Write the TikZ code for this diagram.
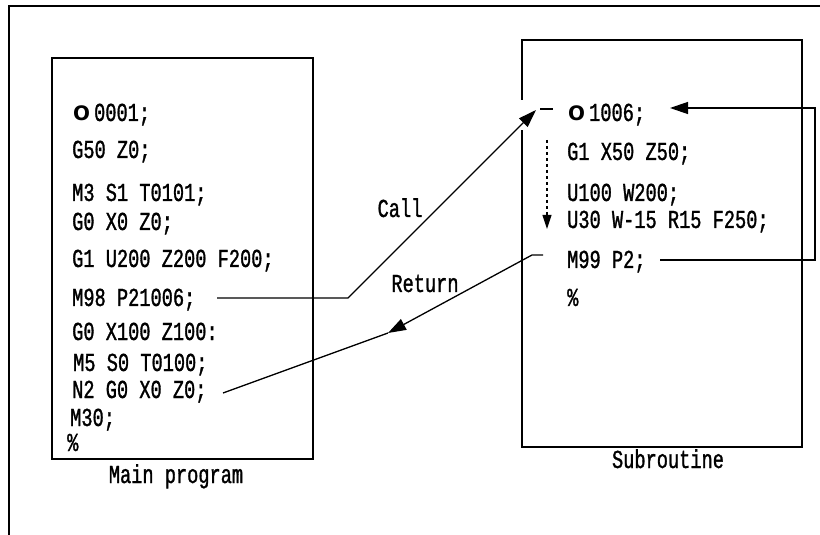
\documentclass[tikz,border=0pt]{standalone}
\usepackage{fontspec}
\newfontfamily\codefont[FakeStretch=0.72,FakeBold=1.2]{Liberation Mono}
\newfontfamily\ofont{DejaVu Sans}
\usetikzlibrary{arrows.meta}
\begin{document}
\begin{tikzpicture}[x=1bp,y=-1bp,
  code/.style={anchor=base west, inner sep=0pt, font=\codefont\fontsize{26}{26}\selectfont},
  lab/.style={anchor=base, inner sep=0pt, font=\codefont\fontsize{26}{26}\selectfont},
  conn/.style={line width=1.3bp, line join=miter},
  boxline/.style={line width=1.6bp},
  tip/.style={-{Triangle[length=18bp,width=12bp]}},
  smalltip/.style={-{Triangle[length=14bp,width=9bp]}},
]
\newcommand{\bigO}{{\ofont\bfseries\fontsize{20}{20}\selectfont O}}
\useasboundingbox (0,0) rectangle (820,535);
\fill[white] (0,0) rectangle (820,535);
% outer frame
\draw[line width=2bp] (9,540) -- (9,6) -- (825,6);

% main program box
\node[draw, boxline, minimum width=261bp, minimum height=401bp, anchor=north west, inner sep=0pt] (mainbox) at (51,57) {};
% subroutine box (left edge broken)
\draw[boxline] (522,100) -- (522,40) -- (802,40) -- (802,447) -- (522,447) -- (522,130);

% main program text
\node[code] (m1) at (73,121) {\bigO\kern 4bp 0001;};
\node[code] (m2) at (72,158) {G50 Z0;};
\node[code] (m3) at (72,201) {M3 S1 T0101;};
\node[code] (m4) at (72,230) {G0 X0 Z0;};
\node[code] (m5) at (72,267) {G1 U200 Z200 F200;};
\node[code] (m6) at (72,306) {M98 P21006;};
\node[code] (m7) at (72,340) {G0 X100 Z100:};
\node[code] (m8) at (73,371) {M5 S0 T0100;};
\node[code] (m9) at (72,398) {N2 G0 X0 Z0;};
\node[code] (m10) at (70,426) {M30;};
\node[code] (m11) at (67,451) {\%};
\node[lab] (mainlab) at (176,483) {Main program};

% subroutine text
\node[code] (s1) at (568,121) {\bigO\kern 4bp 1006;};
\node[code] (s2) at (567,160) {G1 X50 Z50;};
\node[code] (s3) at (567,201) {U100 W200;};
\node[code] (s4) at (567,228) {U30 W-15 R15 F250;};
\node[code] (s5) at (567,268) {M99 P2;};
\node[code] (s6) at (567,306) {\%};
\node[lab] (sublab) at (668,468) {Subroutine};

% labels
\node[lab] (call) at (400,217) {Call};
\node[lab] (ret) at (425,292) {Return};

% coordinates
\coordinate (cA) at (217,298);
\coordinate (cB) at (348,298);
\coordinate (cC) at (536,110);
\coordinate (dA) at (540,109);
\coordinate (dB) at (553,109);
\coordinate (rA) at (543,255);
\coordinate (rB) at (532,255);
\coordinate (rC) at (388,333);
\coordinate (rD) at (223,393);
\coordinate (fA) at (660,260);
\coordinate (fB) at (815,260);
\coordinate (fC) at (815,108);
\coordinate (fD) at (670,108);
\coordinate (vA) at (547,140);
\coordinate (vB) at (547,229);

% call
\draw[conn, tip] (cA) -- (cB) -- (cC);
\draw[conn] (dA) -- (dB);
% return
\draw[conn, tip] (rA) -- (rB) -- (rC);
\draw[conn] (rC) -- (rD);
% loop back
\draw[conn, tip] (fA) -- (fB) -- (fC) -- (fD);
% sequential flow
\draw[line width=1.1bp, dash pattern=on 3bp off 3bp, smalltip] (vA) -- (vB);
\end{tikzpicture}
\end{document}
